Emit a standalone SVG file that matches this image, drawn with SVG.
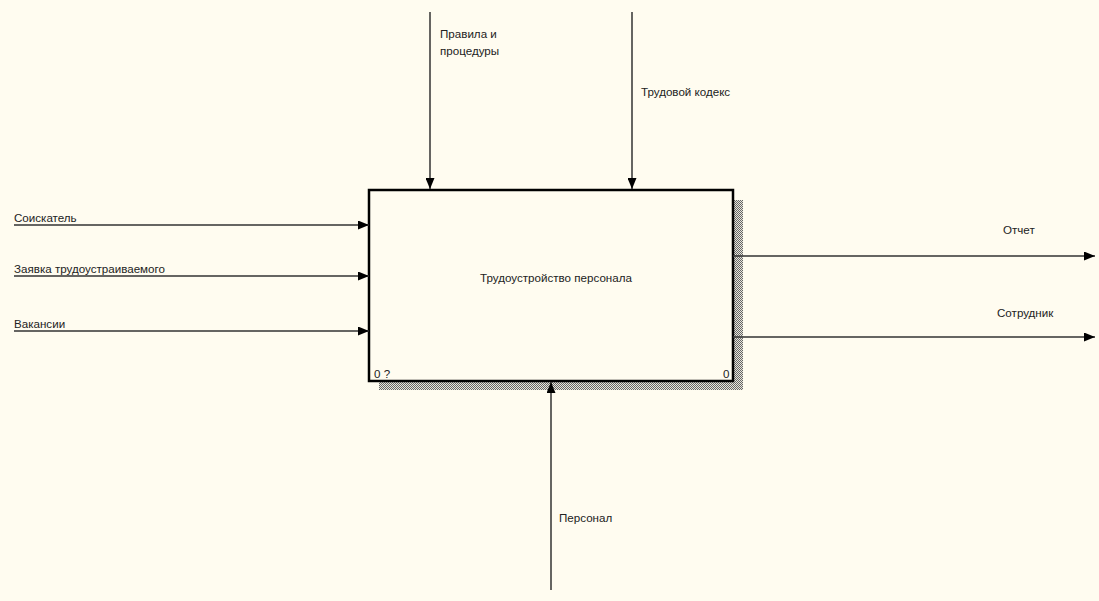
<svg xmlns="http://www.w3.org/2000/svg" width="1099" height="601" viewBox="0 0 1099 601">
<style>
.t{font-family:"Liberation Sans",Arial,sans-serif;font-size:11.6px;fill:#222}
.ln{stroke:#333;stroke-width:1.5;fill:none}
</style>
<defs>
<pattern id="hatch" width="2" height="2" patternUnits="userSpaceOnUse">
<rect width="2" height="2" fill="#e8e6dc"/>
<rect width="1" height="1" fill="#666"/>
<rect x="1" y="1" width="1" height="1" fill="#666"/>
</pattern>
<marker id="ah" markerWidth="11" markerHeight="9" refX="11" refY="4.5" orient="auto" markerUnits="userSpaceOnUse">
<path d="M0,0 L11,4.5 L0,9 Z" fill="#000"/>
</marker>
</defs>
<rect width="1099" height="601" fill="#fffcf0"/>
<g id="node-main">
<rect x="733" y="200" width="10" height="190" fill="url(#hatch)"/>
<rect x="379" y="381" width="364" height="9" fill="url(#hatch)"/>
<rect x="369" y="190" width="364" height="191" fill="#fffcf0" stroke="#000" stroke-width="2.5"/>
<text class="t" x="556" y="282" text-anchor="middle">Трудоустройство персонала</text>
<text class="t" x="374" y="378">0 ?</text>
<text class="t" x="723" y="378">0</text>
</g>
<g id="connectors">
<line class="ln" x1="14" y1="225" x2="369" y2="225" marker-end="url(#ah)"/>
<line class="ln" x1="14" y1="276" x2="369" y2="276" marker-end="url(#ah)"/>
<line class="ln" x1="14" y1="331" x2="369" y2="331" marker-end="url(#ah)"/>
<line class="ln" x1="733" y1="256" x2="1095" y2="256" marker-end="url(#ah)"/>
<line class="ln" x1="733" y1="337" x2="1095" y2="337" marker-end="url(#ah)"/>
<line class="ln" x1="430" y1="12" x2="430" y2="189" marker-end="url(#ah)"/>
<line class="ln" x1="632" y1="12" x2="632" y2="189" marker-end="url(#ah)"/>
<line class="ln" x1="551" y1="590" x2="551" y2="382" marker-end="url(#ah)"/>
</g>
<g id="labels">
<text class="t" x="14" y="222">Соискатель</text>
<text class="t" x="14" y="273">Заявка трудоустраиваемого</text>
<text class="t" x="14" y="328">Вакансии</text>
<text class="t" x="1003" y="234">Отчет</text>
<text class="t" x="997" y="317">Сотрудник</text>
<text class="t" x="440" y="38">Правила и</text>
<text class="t" x="440" y="55">процедуры</text>
<text class="t" x="641" y="96">Трудовой кодекс</text>
<text class="t" x="559" y="522">Персонал</text>
</g>
</svg>
